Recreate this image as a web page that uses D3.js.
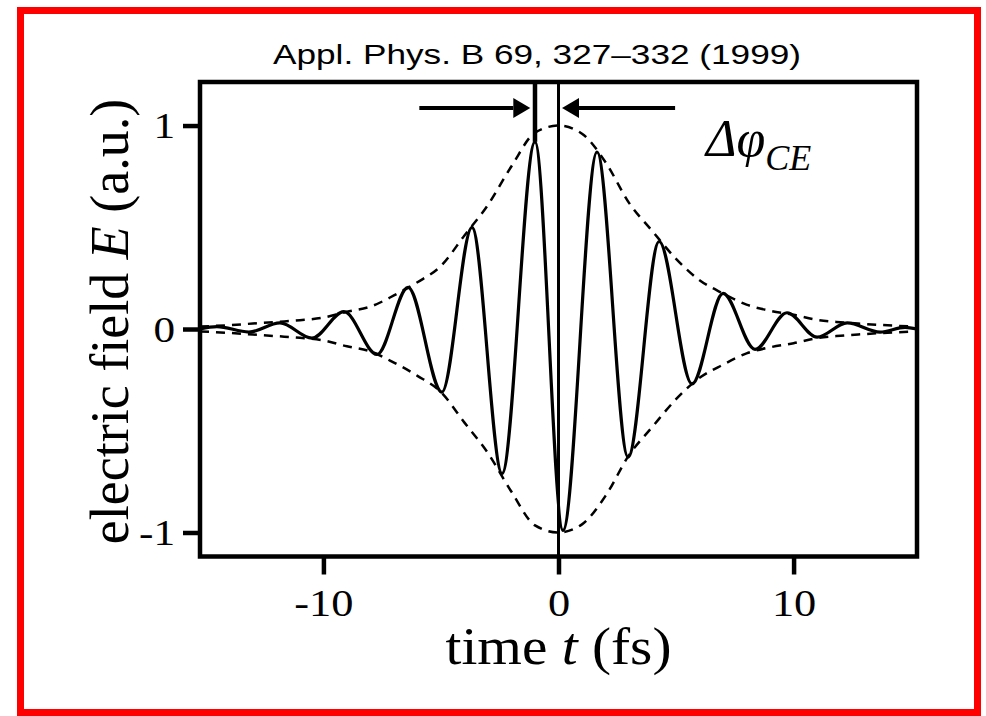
<!DOCTYPE html>
<html>
<head>
    <title>Carrier-envelope phase</title>
    <script src="https://d3js.org/d3.v7.min.js"></script>
    <style>
        body { margin: 0; background: #fff; }
        svg { display: block; }
    </style>
</head>
<body>
    <div id="chart"></div>
    <script>
        // Envelope (time in fs, amplitude in a.u.)
        const envT = [-15.25, -14, -13, -12, -11, -10, -9, -8, -7, -6, -5, -4, -3, -2, -1, 0,
                      1, 2, 3, 4, 5, 6, 7, 8, 9, 10, 11, 12, 13, 14, 15.25];
        const envA = [0.012, 0.019, 0.027, 0.035, 0.043, 0.056, 0.085, 0.11, 0.165, 0.23, 0.31, 0.46, 0.61, 0.80, 0.965, 1.0,
                      0.96, 0.82, 0.62, 0.48, 0.345, 0.24, 0.175, 0.12, 0.09, 0.07, 0.045, 0.033, 0.025, 0.018, 0.012];

        // Carrier: extrema of the solid curve
        const carT = [-15.25, -14.53, -13.17, -11.85, -10.49, -9.13, -7.72, -6.40, -4.96, -3.68, -2.40, -1.0,
                      0.19, 1.64, 2.96, 4.28, 5.68, 7.0, 8.36, 9.72, 11.0, 12.28, 13.68, 14.74, 15.25];
        const carE = [0.0, 0.012, -0.015, 0.03, -0.045, 0.085, -0.125, 0.205, -0.31, 0.50, -0.71, 0.92,
                      -0.99, 0.87, -0.63, 0.43, -0.27, 0.175, -0.10, 0.08, -0.04, 0.03, -0.015, 0.008, 0.0];

        const xTicks = [-10, 0, 10];
        const yTicks = [-1, 0, 1];

        // phase markers: peak of the carrier and peak of the envelope
        const markerT = [-1.0, 0];
        const markerEnd = [0.92, null];
        // arrows pointing at the two markers
        const arrowFrom = [-5.92, 4.96];
        const arrowTo = [-1.2, 0.15];
        const arrowE = 1.086;

        const serif = '"Liberation Serif", "Times New Roman", serif';

        const svg = d3.select("#chart")
            .append("svg")
            .attr("width", 986)
            .attr("height", 716);

        // red outer border
        svg.append("rect")
            .attr("x", 20.5).attr("y", 10.5)
            .attr("width", 957).attr("height", 702)
            .attr("fill", "none")
            .attr("stroke", "#ff0000")
            .attr("stroke-width", 7);

        const x = d3.scaleLinear().domain([-15.25, 15.25]).range([200, 917]);
        const y = d3.scaleLinear().domain([-1.118, 1.214]).range([556.5, 82]);

        // dashed envelope (+ and -)
        const envLine = d3.line().curve(d3.curveMonotoneX);
        [1, -1].forEach(s => {
            svg.append("path")
                .attr("d", envLine(envT.map((t, i) => [x(t), y(s * envA[i])])))
                .attr("fill", "none")
                .attr("stroke", "#000")
                .attr("stroke-width", 2.5)
                .attr("stroke-dasharray", "9,7");
        });

        // carrier
        const carLine = d3.line().curve(d3.curveMonotoneX);
        svg.append("path")
            .attr("d", carLine(carT.map((t, i) => [x(t), y(carE[i])])))
            .attr("fill", "none")
            .attr("stroke", "#000")
            .attr("stroke-width", 3.2);

        // vertical markers
        markerT.forEach((t, i) => {
            svg.append("line")
                .attr("x1", x(t)).attr("x2", x(t))
                .attr("y1", y.range()[1])
                .attr("y2", markerEnd[i] === null ? y.range()[0] : y(markerEnd[i]))
                .attr("stroke", "#000")
                .attr("stroke-width", i === 0 ? 4.5 : 3);
        });

        // arrows
        arrowFrom.forEach((t0, i) => {
            const x0 = x(t0), x1 = x(arrowTo[i]), yy = y(arrowE);
            const dir = Math.sign(x1 - x0);
            const base = x1 - dir * 17;
            svg.append("line")
                .attr("x1", x0).attr("x2", base)
                .attr("y1", yy).attr("y2", yy)
                .attr("stroke", "#000")
                .attr("stroke-width", 4);
            svg.append("path")
                .attr("d", `M${x1},${yy}L${base},${yy - 10}L${base},${yy + 10}Z`)
                .attr("fill", "#000");
        });

        // frame
        svg.append("rect")
            .attr("x", 200).attr("y", 82)
            .attr("width", 717).attr("height", 474.5)
            .attr("fill", "none")
            .attr("stroke", "#000")
            .attr("stroke-width", 4.5);

        // stretch tick labels a little, like the scanned figure
        function widen(sel, k) {
            sel.each(function () {
                const w = this.getComputedTextLength();
                d3.select(this).attr("textLength", w * k).attr("lengthAdjust", "spacingAndGlyphs");
            });
        }

        const xAxis = svg.append("g")
            .attr("transform", "translate(0,556.5)")
            .call(d3.axisBottom(x).tickValues(xTicks).tickSize(18).tickSizeOuter(0).tickFormat(d => String(d)));
        xAxis.select(".domain").remove();
        xAxis.selectAll("line").attr("stroke", "#000").attr("stroke-width", 4.5);
        xAxis.selectAll("text")
            .attr("y", 59).attr("dy", 0)
            .attr("fill", "#000")
            .style("font-family", serif)
            .style("font-size", "37px")
            .call(widen, 1.2);

        const yAxis = svg.append("g")
            .attr("transform", "translate(200,0)")
            .call(d3.axisLeft(y).tickValues(yTicks).tickSize(17).tickSizeOuter(0).tickFormat(d => String(d)));
        yAxis.select(".domain").remove();
        yAxis.selectAll("line").attr("stroke", "#000").attr("stroke-width", 4.5);
        yAxis.selectAll("text")
            .attr("x", -25).attr("dy", "0.34em")
            .attr("fill", "#000")
            .style("font-family", serif)
            .style("font-size", "36px")
            .call(widen, 1.2);

        // axis titles
        const xt = svg.append("text")
            .attr("x", 558.5).attr("y", 664)
            .attr("text-anchor", "middle")
            .style("font-family", serif)
            .style("font-size", "53px")
            .attr("textLength", 226)
            .attr("lengthAdjust", "spacingAndGlyphs");
        xt.append("tspan").text("time ");
        xt.append("tspan").style("font-style", "italic").text("t");
        xt.append("tspan").text(" (fs)");

        const yt = svg.append("text")
            .attr("transform", "translate(128,321.5) rotate(-90)")
            .attr("text-anchor", "middle")
            .style("font-family", serif)
            .style("font-size", "54px");
        yt.append("tspan").text("electric field ");
        yt.append("tspan").style("font-style", "italic").text("E");
        yt.append("tspan").text(" (a.u.)");

        // title
        svg.append("text")
            .attr("x", 537).attr("y", 64)
            .attr("text-anchor", "middle")
            .style("font-family", '"Liberation Sans", Arial, sans-serif')
            .style("font-size", "28px")
            .attr("textLength", 528)
            .attr("lengthAdjust", "spacingAndGlyphs")
            .text("Appl. Phys. B 69, 327–332 (1999)");

        // phase label
        const ph = svg.append("text")
            .attr("x", 706).attr("y", 156)
            .style("font-family", serif)
            .style("font-style", "italic")
            .style("font-size", "52px");
        ph.append("tspan").text("Δφ");
        ph.append("tspan").attr("dy", 14).style("font-size", "36px").text("CE");
    </script>
</body>
</html>
